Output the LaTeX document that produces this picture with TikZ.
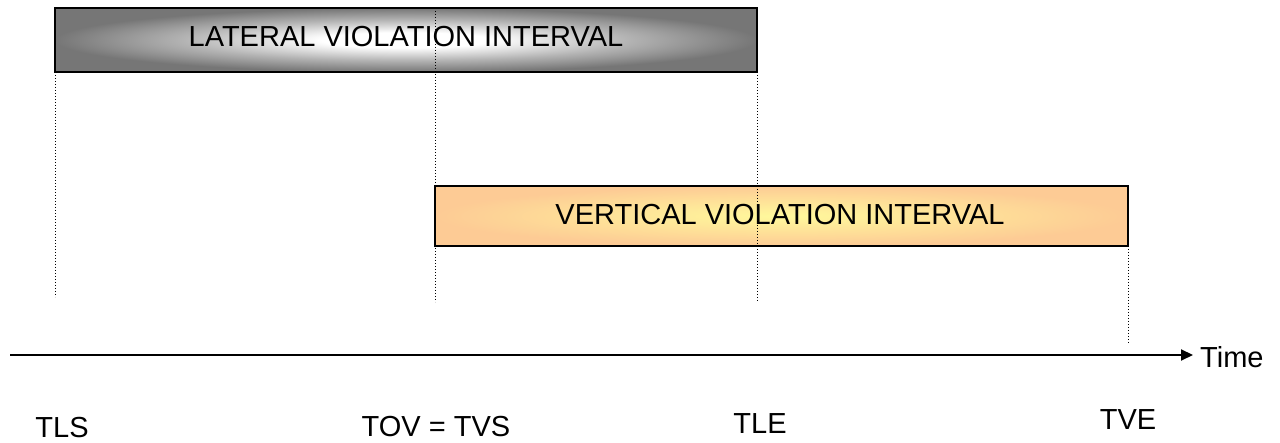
\documentclass[tikz,border=0pt]{standalone}
\usepackage{fontspec}
\setmainfont{Liberation Sans}
\usetikzlibrary{arrows.meta}
\definecolor{edgegray}{HTML}{767676}
\definecolor{peach}{HTML}{FDCB95}
\definecolor{paleyellow}{HTML}{FFF99C}
\pgfdeclareradialshading{latshade}{\pgfpoint{0bp}{0bp}}{color(0bp)=(white); color(6bp)=(white); color(16bp)=(gray!60); color(25bp)=(edgegray); color(50bp)=(edgegray)}
\tikzset{
  lbl/.style={font=\fontsize{29}{34}\selectfont, inner sep=0pt},
  latbox/.style={draw=black, line width=2pt, shading=latshade,
    minimum width=702pt, minimum height=64pt, inner sep=0pt},
  vertbox/.style={draw=black, line width=2pt, inner color=paleyellow, outer color=peach,
    minimum width=693pt, minimum height=60pt, inner sep=0pt},
  guide/.style={line width=1pt, dash pattern=on 1pt off 2pt},
  axis/.style={line width=2pt, -{Triangle[length=12pt,width=11pt]}}
}
\begin{document}
\begin{tikzpicture}[x=1pt,y=-1pt]
\useasboundingbox (0,0) rectangle (1280,443);
\coordinate (g2a) at (435,8);
\coordinate (g2b) at (435,302);
\coordinate (g3a) at (757,72);
\coordinate (g3b) at (757,302);
\node[latbox] (lat) at (406,40) {};
\node[vertbox] (vert) at (781.5,216) {};
\draw[guide] (g2a) -- (g2b);
\draw[guide] (g3a) -- (g3b);
\node[lbl] (lattext) at (406,37) {LATERAL VIOLATION INTERVAL};
\node[lbl] (verttext) at (780,215) {VERTICAL VIOLATION INTERVAL};
\coordinate (g1a) at (55,72);
\coordinate (g1b) at (55,297);
\coordinate (g4a) at (1128,246);
\coordinate (g4b) at (1128,343);
\draw[guide] (g1a) -- (g1b);
\draw[guide] (g4a) -- (g4b);
\coordinate (t0) at (10,355);
\node[lbl, anchor=west] (time) at (1200,357) {Time};
\draw[axis] (t0) -- ([xshift=-7pt]time.west |- t0);
\node[lbl] (tls) at (62,428) {TLS};
\node[lbl] (tov) at (436,427) {TOV = TVS};
\node[lbl] (tle) at (760,424) {TLE};
\node[lbl] (tve) at (1128,420) {TVE};
\end{tikzpicture}
\end{document}
